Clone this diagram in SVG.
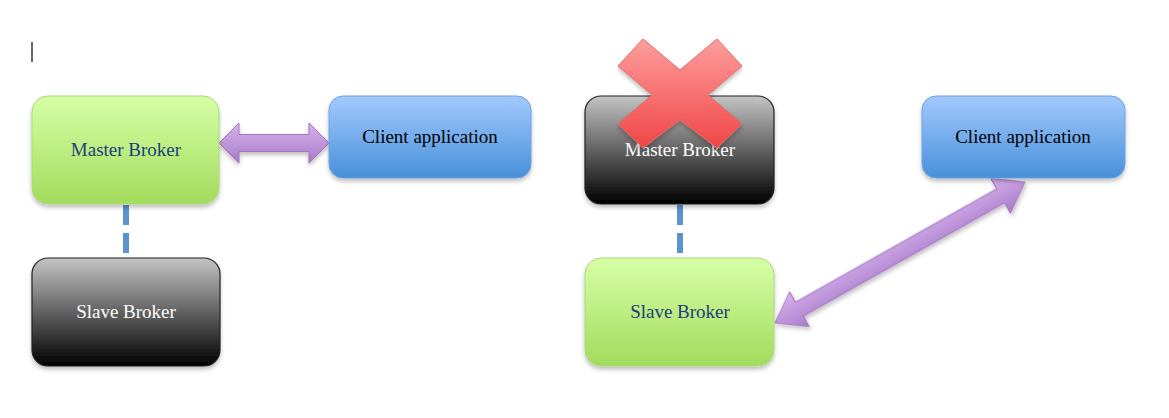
<svg xmlns="http://www.w3.org/2000/svg" width="1169" height="418" viewBox="0 0 1169 418">
<defs>
<linearGradient id="gGreen" x1="0" y1="0" x2="0" y2="1"><stop offset="0" stop-color="#d6ffa6"/><stop offset="1" stop-color="#a2db5c"/></linearGradient>
<linearGradient id="gBlue" x1="0" y1="0" x2="0" y2="1"><stop offset="0" stop-color="#a3c9fd"/><stop offset="1" stop-color="#4790da"/></linearGradient>
<linearGradient id="gBlack" x1="0" y1="0" x2="0" y2="1"><stop offset="0" stop-color="#c4c4c4"/><stop offset="1" stop-color="#000000"/></linearGradient>
<linearGradient id="gPurple" x1="0" y1="0" x2="0" y2="1"><stop offset="0" stop-color="#d8b2ec"/><stop offset="1" stop-color="#a77bc9"/></linearGradient>
<linearGradient id="gRed" x1="0" y1="0" x2="0" y2="1"><stop offset="0" stop-color="#ff9d9d"/><stop offset="1" stop-color="#ef4646"/></linearGradient>
<filter id="sh" x="-10%" y="-10%" width="120%" height="130%"><feDropShadow dx="0" dy="3" stdDeviation="2" flood-color="#000" flood-opacity="0.25"/></filter>
</defs>
<style>
.green{fill:url(#gGreen);stroke:#a9d97a;stroke-width:1}
.blue{fill:url(#gBlue);stroke:#6aa2e2;stroke-width:1}
.black{fill:url(#gBlack);stroke:#222;stroke-width:1.2}
.arrow{fill:url(#gPurple);stroke:#a46fc4;stroke-width:1}
.dash{stroke:#5a93cd;stroke-width:6;stroke-dasharray:20 8;fill:none}
text{font-family:"Liberation Serif","DejaVu Serif",serif;font-size:19px;text-anchor:middle}
.tn{fill:#1d3d7c}
.tk{fill:#000}
.tw{fill:#fff}
</style>
<line x1="32" y1="42" x2="32" y2="62" stroke="#000" stroke-width="1.2"/>
<g id="connectors">
<line class="dash" x1="126" y1="205" x2="126" y2="253"/>
<line class="dash" x1="680" y1="205" x2="680" y2="253"/>
<polygon class="arrow" points="219,143 239,123 239,134.5 309,134.5 309,123 329,143 309,163 309,151.5 239,151.5 239,163" filter="url(#sh)"/>
<g transform="translate(900,252.5) rotate(-29.4)">
<polygon class="arrow" points="-143.5,0 -115.5,-20 -115.5,-8 115.5,-8 115.5,-20 143.5,0 115.5,20 115.5,8 -115.5,8 -115.5,20" filter="url(#sh)"/>
</g>
</g>
<g id="masterLeft">
<rect class="green" x="32" y="96" width="187" height="108" rx="16" filter="url(#sh)"/>
<text class="tn" x="126" y="156">Master Broker</text>
</g>
<g id="clientLeft">
<rect class="blue" x="329" y="96" width="202" height="82" rx="14" filter="url(#sh)"/>
<text class="tk" x="430" y="143">Client application</text>
</g>
<g id="slaveLeft">
<rect class="black" x="32" y="258" width="188" height="108" rx="16" filter="url(#sh)"/>
<text class="tw" x="126" y="318">Slave Broker</text>
</g>
<g id="masterRight">
<rect class="black" x="585" y="96" width="189" height="108" rx="16" filter="url(#sh)"/>
<text class="tw" x="680" y="156">Master Broker</text>
</g>
<g id="slaveRight">
<rect class="green" x="585" y="258" width="189" height="108" rx="16" filter="url(#sh)"/>
<text class="tn" x="680" y="318">Slave Broker</text>
</g>
<g id="clientRight">
<rect class="blue" x="922" y="96" width="203" height="82" rx="14" filter="url(#sh)"/>
<text class="tk" x="1023" y="143">Client application</text>
</g>
<g id="crossMark">
<polygon points="643,39 680,70 717,39 742,66 708,95 742,124 717,148 680,120 643,148 618,124 652,95 618,66" fill="url(#gRed)" stroke="#e26a6a" stroke-width="1" filter="url(#sh)"/>
</g>
</svg>
